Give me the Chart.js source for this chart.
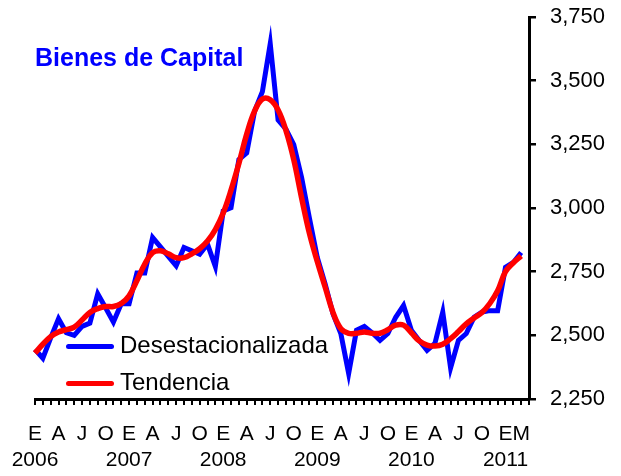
<!DOCTYPE html>
<html>
<head>
<meta charset="utf-8">
<script src="https://cdn.jsdelivr.net/npm/chart.js@4.4.1/dist/chart.umd.min.js"></script>
<style>
    body { margin: 0; background: #fff; }
    #wrap { position: relative; width: 621px; height: 476px; font-family: 'Liberation Sans', Arial, sans-serif; }
    #titulo { position: absolute; left: 35px; top: 45px; font-size: 25px; line-height: 25px; font-weight: bold; color: #0000ff; }
    .leg { position: absolute; left: 66px; font-size: 24px; line-height: 24px; color: #000; }
    .leg span { display: inline-block; width: 48px; height: 5px; border-radius: 3px; vertical-align: middle; margin-right: 6px; }
</style>
</head>
<body>
<div id="wrap">
    <canvas id="chart"></canvas>
    <div id="titulo">Bienes de Capital</div>
    <div class="leg" style="top:333px"><span style="background:#0000ff"></span>Desestacionalizada</div>
    <div class="leg" style="top:370px"><span style="background:#ff0000"></span>Tendencia</div>
</div>
<script>
// Monthly series, Jan 2006 - Mar 2011
const years = ['2006', '2007', '2008', '2009', '2010', '2011'];
const quarterLetters = ['E', '', '', 'A', '', '', 'J', '', '', 'O', '', ''];
const lastLetters = ['E', '', 'M', '']; // Jan-Apr 2011 (Apr left empty)

const desestacionalizada = [
    2445, 2410, 2490, 2565, 2510, 2500, 2535, 2548, 2663, 2608, 2552, 2624,
    2624, 2745, 2745, 2884, 2847, 2810, 2773, 2845, 2832, 2819, 2858, 2770,
    2988, 3001, 3190, 3216, 3380, 3457, 3645, 3346, 3310, 3249, 3120, 2960,
    2806, 2702, 2585, 2507, 2350, 2520, 2535, 2510, 2480, 2507, 2571, 2617,
    2520, 2480, 2441, 2468, 2591, 2372, 2480, 2507, 2571, 2591, 2597, 2597,
    2767, 2786, 2825
];
const tendencia = [
    2430, 2465, 2495, 2513, 2522, 2532, 2560, 2590, 2605, 2613, 2613, 2625,
    2655, 2715, 2780, 2825, 2832, 2820, 2805, 2805, 2820, 2840, 2870, 2915,
    2980, 3070, 3175, 3290, 3380, 3428, 3425, 3385, 3305, 3190, 3040, 2900,
    2790, 2690, 2590, 2526, 2508, 2508, 2513, 2508, 2508, 2522, 2540, 2540,
    2510, 2478, 2462, 2458, 2465, 2487, 2515, 2545, 2568, 2590, 2625, 2675,
    2750, 2785, 2812
];
const yMin = 2250, yMax = 3750, yStep = 250;

// build the category labels: letter on first line, year under January
const labels = [];
years.slice(0, 5).forEach(y => {
    quarterLetters.forEach((l, m) => labels.push(m === 0 ? [l, y] : l));
});
lastLetters.forEach((l, m) => labels.push(m === 0 ? [l, years[5]] : l));

const fuente = "'Liberation Sans', Arial, sans-serif";

new Chart(document.getElementById('chart'), {
    type: 'line',
    data: {
        labels: labels,
        datasets: [{
            label: 'Desestacionalizada',
            data: desestacionalizada,
            borderColor: '#0000ff',
            borderWidth: 5,
            pointRadius: 0,
            tension: 0,
            order: 2
        }, {
            label: 'Tendencia',
            data: tendencia,
            borderColor: '#ff0000',
            borderWidth: 5.5,
            pointRadius: 0,
            tension: 0.4,
            order: 1
        }]
    },
    options: {
        responsive: true,
        maintainAspectRatio: false,
        animation: false,
        layout: { padding: { left: 35, top: 17, right: 16, bottom: 3 } },
        plugins: { legend: { display: false }, tooltip: { enabled: false } },
        scales: {
            x: {
                offset: false,
                border: { display: true, color: '#000', width: 3 },
                grid: { drawOnChartArea: false, drawTicks: true, tickLength: 6, color: '#000', lineWidth: 2 },
                ticks: {
                    autoSkip: false, maxRotation: 0, minRotation: 0,
                    padding: 17, color: '#000',
                    font: { family: fuente, size: 21, lineHeight: 1.2 }
                },
                // chart.js reserves padding twice; keep the axis box tight
                afterFit: s => { s.height = 74; s.paddingLeft = 0; s.paddingRight = 0; }
            },
            y: {
                position: 'right',
                min: yMin, max: yMax,
                border: { display: true, color: '#000', width: 3 },
                grid: { drawOnChartArea: false, drawTicks: true, tickLength: 7, color: '#000', lineWidth: 2.5 },
                ticks: {
                    stepSize: yStep, padding: 14, color: '#000',
                    font: { family: fuente, size: 22 }
                },
                afterFit: s => { s.width = 76; s.paddingTop = 0; s.paddingBottom = 0; }
            }
        }
    }
});
</script>
</body>
</html>
